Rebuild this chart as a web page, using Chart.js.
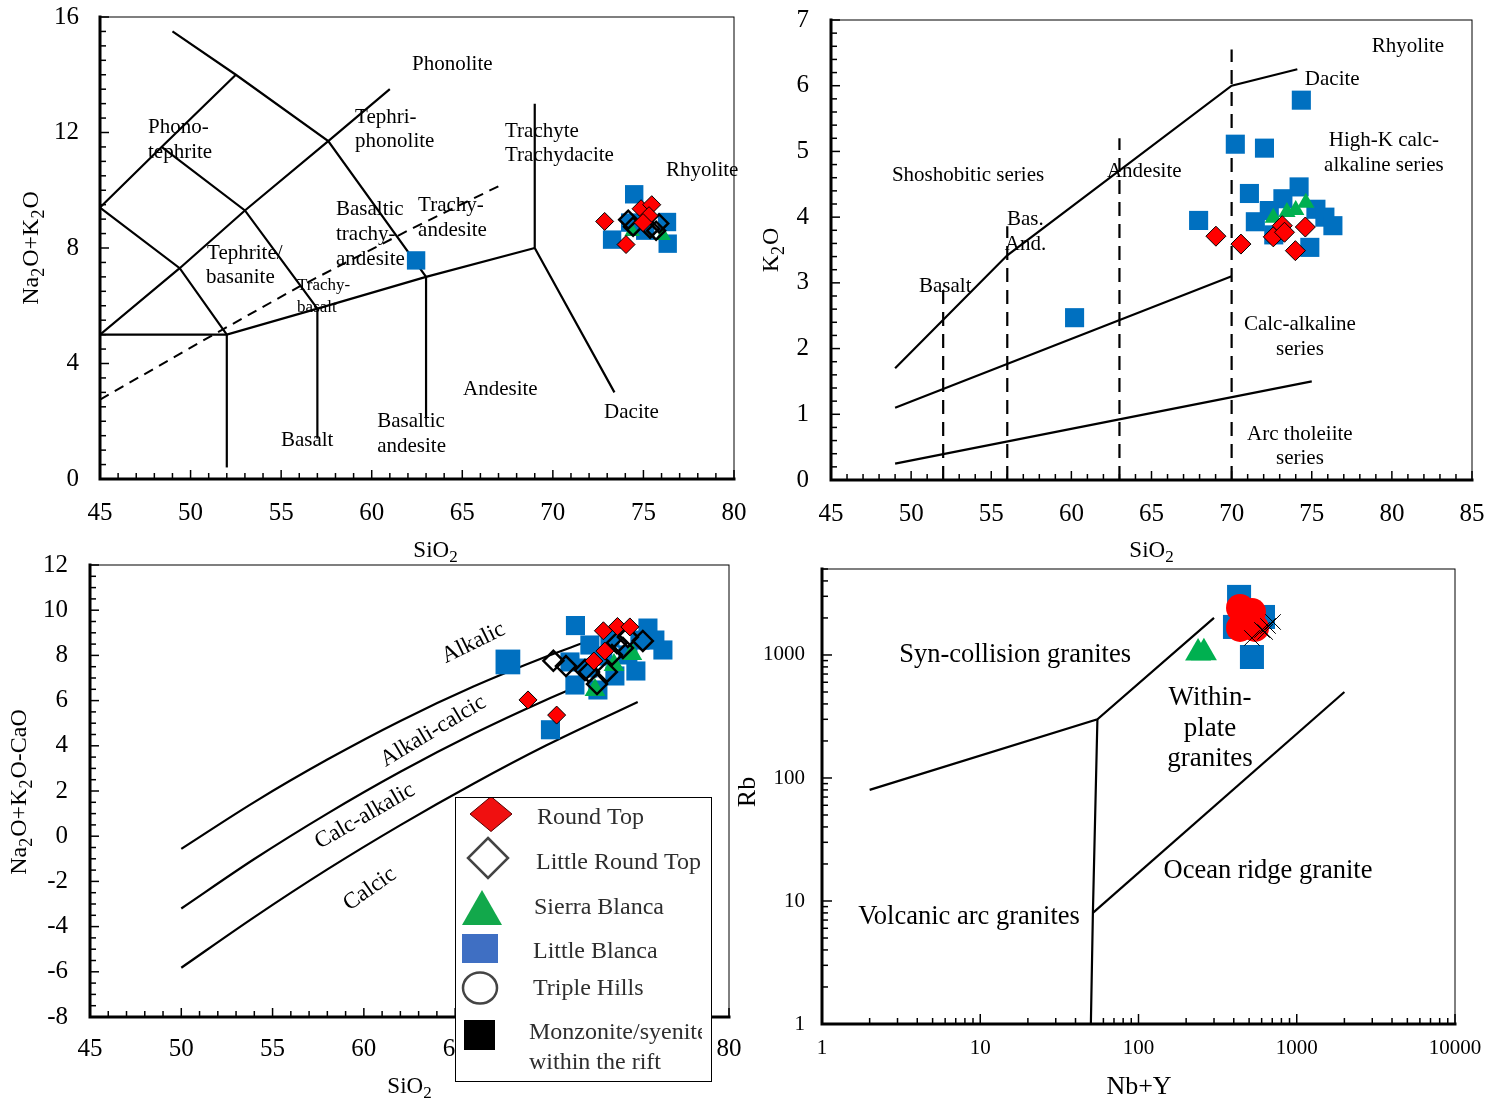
<!DOCTYPE html>
<html>
<head>
<meta charset="utf-8">
<title>Geochemical classification diagrams</title>
<script src="https://cdn.jsdelivr.net/npm/chart.js@4.4.1/dist/chart.umd.min.js"></script>
<style>
  html, body { margin: 0; padding: 0; background: #fff; }
  #page { position: relative; width: 1500px; height: 1103px; overflow: hidden; }
  #page canvas { position: absolute; }
</style>
</head>
<body>
<div id="page">
  <canvas id="tasChart"></canvas>
  <canvas id="k2oChart"></canvas>
  <canvas id="maliChart"></canvas>
  <canvas id="rbChart"></canvas>
</div>
<script>
// ================================
// Data
// ================================

// --- TAS (Na2O+K2O vs SiO2) ---
const tasRoundTop = [[72.86, 8.92], [74.04, 8.12], [74.87, 9.36], [75.46, 9.5], [75.31, 9.12], [74.98, 8.88]];
const tasLittleRoundTop = [[74.16, 8.98], [74.43, 8.74], [75.7, 8.6], [75.87, 8.85], [75.37, 8.67]];
const tasSierraBlanca = [[76.09, 8.43], [74.38, 8.57]];
const tasLittleBlanca = [[74.49, 9.86], [73.27, 8.29], [76.34, 8.15], [76.3, 8.9], [75.1, 8.6], [74.27, 8.88], [62.45, 7.57]];
const tasFieldLines = [
    [[45, 5], [52, 5], [57, 5.9], [63, 7], [69, 8]],
    [[52, 0.4], [52, 5]],
    [[57, 1.4], [57, 5.9]],
    [[63, 2.1], [63, 7]],
    [[69, 13], [69, 8], [73.4, 3.0]],
    [[45, 5], [49.4, 7.3], [53, 9.3], [57.6, 11.7], [61, 13.5]],
    [[45, 9.4], [48.4, 11.5], [52.5, 14]],
    [[49, 15.5], [52.5, 14], [57.6, 11.7], [63, 7]],
    [[45, 9.4], [49.4, 7.3], [52, 5]],
    [[48.4, 11.5], [53, 9.3], [57, 5.9]]
];
const tasAlkalineLine = [[45, 2.75], [51.1, 4.94], [55.9, 6.63], [62.3, 8.7], [67.2, 10.2]];
const tasLabels = [
    ['Phonolite', 62.23, 14.37],
    ['Phono-', 47.65, 12.16], ['tephrite', 47.65, 11.3],
    ['Tephri-', 59.08, 12.51], ['phonolite', 59.08, 11.68],
    ['Trachyte', 67.36, 12.02], ['Trachydacite', 67.36, 11.2],
    ['Rhyolite', 76.25, 10.68],
    ['Basaltic', 58.03, 9.33], ['trachy-', 58.03, 8.47], ['andesite', 58.03, 7.6],
    ['Trachy-', 62.56, 9.47], ['andesite', 62.56, 8.6],
    ['Tephrite/', 50.91, 7.81], ['basanite', 50.85, 6.98],
    ['Andesite', 65.04, 3.11],
    ['Basalt', 54.99, 1.35],
    ['Basaltic', 60.3, 2.0], ['andesite', 60.3, 1.14],
    ['Dacite', 72.83, 2.32]
];
const tasSmallLabels = [['Trachy-', 55.88, 6.7], ['basalt', 55.88, 5.94]];

// --- K2O vs SiO2 ---
const k2oRoundTop = [[69.02, 3.71], [70.58, 3.59], [72.6, 3.7], [73.16, 3.87], [74.6, 3.85], [73.98, 3.49], [73.3, 3.77]];
const k2oSierraBlanca = [[72.6, 3.99], [73.45, 4.08], [74.0, 4.11], [74.63, 4.22]];
const k2oLittleBlanca = [
    [74.35, 5.78], [70.23, 5.11], [72.05, 5.05], [71.11, 4.36], [67.94, 3.95], [60.2, 2.47],
    [74.21, 4.46], [73.2, 4.28], [72.35, 4.1], [71.48, 3.93], [75.26, 4.12], [75.82, 4.0],
    [76.32, 3.87], [74.88, 3.54], [72.63, 3.73]
];
const k2oSeriesLines = [
    [[49, 1.7], [56, 3.42], [70, 6.0], [74.1, 6.25]],
    [[49, 1.1], [70, 3.1]],
    [[49, 0.25], [75, 1.5]]
];
const k2oRockLines = [
    [[52, 0], [52, 2.95]],
    [[56, 0], [56, 3.86]],
    [[63, 0], [63, 5.2]],
    [[70, 0], [70, 6.55]]
];
const k2oLabels = [
    ['Rhyolite', 78.75, 6.59], ['Dacite', 74.57, 6.09],
    ['Shoshobitic series', 48.8, 4.63], ['Andesite', 62.22, 4.7],
    ['Bas.', 55.98, 3.96], ['And.', 55.85, 3.58], ['Basalt', 50.49, 2.95]
];
const k2oCenteredLabels = [
    ['High-K calc-', 79.5, 5.16], ['alkaline series', 79.5, 4.78],
    ['Calc-alkaline', 74.26, 2.36], ['series', 74.26, 1.99],
    ['Arc tholeiite', 74.26, 0.7], ['series', 74.26, 0.32]
];

// --- MALI (Na2O+K2O-CaO vs SiO2) ---
const maliRoundTop = [[68.99, 6.03], [70.56, 5.36], [73.12, 9.09], [73.89, 9.28], [74.57, 9.26], [73.2, 8.19], [72.6, 7.75]];
const maliLittleRoundTop = [
    [70.38, 7.76], [71.07, 7.53], [72.11, 7.35], [72.33, 7.27], [72.77, 6.73], [73.31, 7.27],
    [73.86, 8.55], [74.19, 8.33], [75.28, 8.64], [74.46, 8.81], [73.59, 8.02]
];
const maliSierraBlanca = [[72.66, 6.47], [73.7, 7.58], [74.68, 8.06]];
const maliLittleBlanca = [
    [71.59, 9.32], [70.22, 4.71], [71.56, 6.69], [72.27, 7.44], [72.82, 6.47], [73.75, 7.09],
    [74.46, 8.02], [75.12, 8.68], [75.94, 8.68], [76.38, 8.24], [74.9, 7.31], [73.09, 7.97],
    [71.29, 7.71], [72.38, 8.46], [73.48, 8.77], [75.56, 9.21]
];
const maliLittleBlancaLarge = [[67.89, 7.71]];
const maliAlkalic = [[50, -0.56], [54, 1.51], [58, 3.39], [62, 5.1], [66, 6.62], [70, 7.95], [72, 8.55]];
const maliAlkaliCalcic = [[50, -3.2], [54, -1.01], [58, 1.0], [62, 2.85], [66, 4.53], [70, 6.04], [72, 6.73]];
const maliCalcic = [[50, -5.82], [54, -3.58], [58, -1.47], [62, 0.49], [66, 2.32], [70, 4.02], [75, 5.94]];
const maliLabels = [['Alkalic', 66.0, 8.55], ['Alkali-calcic', 63.8, 4.65], ['Calc-alkalic', 60.06, 0.89], ['Calcic', 60.33, -2.34]];
const legendNames = ['Round Top', 'Little Round Top', 'Sierra Blanca', 'Little Blanca', 'Triple Hills', 'Monzonite/syenite\nwithin the rift'];

// --- Rb vs Nb+Y ---
const rbRoundTop = [[438, 2411], [521, 2237], [438, 1658], [545, 1658], [471, 1926]];
const rbTripleHills = [[521, 1375], [603, 1597], [658, 1721], [708, 1855], [631, 1538]];
const rbSierraBlanca = [[238, 1038], [259, 1045]];
const rbLittleBlanca = [[432, 2965], [612, 2037], [521, 963], [407, 1690]];
const rbFieldLines = [
    [[2, 80], [55, 300], [300, 2000]],
    [[50, 1], [51.5, 8], [55, 300]],
    [[51.5, 8], [2000, 500]]
];
const rbLabels = [['Syn-collision granites', 16.6, 1000], ['Ocean ridge granite', 658, 17.5], ['Volcanic arc granites', 8.49, 7.41]];
const rbBigLabels = [['Within-', 283, 447], ['plate', 283, 250], ['granites', 283, 143]];
const rbXTicks = [1, 10, 100, 1000, 10000];
const rbYTicks = [1, 10, 100, 1000];

// ================================
// Helpers
// ================================
const FONT = '"Liberation Serif", "Times New Roman", serif';
const BLUE = '#0070C0', RED = '#FF0000', GREEN = '#00B050';

const pts = arr => arr.map(([x, y]) => ({ x, y }));

function marks(data, style) {
    return Object.assign({ data: pts(data), showLine: false }, style);
}

function line(data, extra) {
    return Object.assign({
        data: pts(data), showLine: true, pointRadius: 0, borderColor: '#000',
        borderWidth: 2.2, fill: false, tension: 0
    }, extra || {});
}

const redDiamond = r => ({ pointStyle: 'rectRot', pointRadius: r, pointBackgroundColor: RED, pointBorderColor: '#000', pointBorderWidth: 1 });
const openDiamond = r => ({ pointStyle: 'rectRot', pointRadius: r, pointBackgroundColor: 'rgba(0,0,0,0)', pointBorderColor: '#000', pointBorderWidth: 2.5 });
const greenTriangle = r => ({ pointStyle: 'triangle', pointRadius: r, pointBackgroundColor: GREEN, pointBorderColor: GREEN, pointBorderWidth: 0 });
const blueSquare = r => ({ pointStyle: 'rect', pointRadius: r, pointBackgroundColor: BLUE, pointBorderColor: BLUE, pointBorderWidth: 0 });

// text with "_2" style subscripts
function richText(ctx, str, x, y, size, align) {
    const parts = str.split(/(_\d+)/).filter(Boolean)
        .map(s => s[0] === '_' ? { t: s.slice(1), sub: true } : { t: s, sub: false });
    const big = size + 'px ' + FONT, small = Math.round(size * 0.74) + 'px ' + FONT;
    let total = 0;
    parts.forEach(p => { ctx.font = p.sub ? small : big; p.w = ctx.measureText(p.t).width + (p.sub ? 1 : 0); total += p.w; });
    let cx = align === 'center' ? x - total / 2 : align === 'right' ? x - total : x;
    ctx.textAlign = 'left';
    ctx.textBaseline = 'middle';
    parts.forEach(p => {
        ctx.font = p.sub ? small : big;
        ctx.fillText(p.t, cx, p.sub ? y + size * 0.3 : y);
        cx += p.w;
    });
}

function tickValues(scale, step) {
    const out = [];
    const majors = scale.ticks.map(t => t.value);
    const isMajor = v => majors.some(m => Math.abs(m - v) < 1e-6 * Math.max(1, Math.abs(m)));
    if (scale.type === 'logarithmic') {
        for (let d = Math.floor(Math.log10(scale.min)); d <= Math.ceil(Math.log10(scale.max)); d++) {
            for (let k = 1; k <= 9; k++) {
                const v = k * Math.pow(10, d);
                if (v >= scale.min && v <= scale.max) out.push([v, k === 1]);
            }
        }
    } else {
        const n = Math.round((scale.max - scale.min) / step);
        for (let i = 0; i <= n; i++) {
            const v = scale.min + i * step;
            out.push([v, isMajor(v)]);
        }
    }
    return out;
}

function shape(ctx, kind, x, y, w, h) {
    ctx.beginPath();
    if (kind === 'diamond') {
        ctx.moveTo(x, y - h); ctx.lineTo(x + w, y); ctx.lineTo(x, y + h); ctx.lineTo(x - w, y); ctx.closePath();
    } else if (kind === 'triangle') {
        ctx.moveTo(x, y - h); ctx.lineTo(x + w, y + h); ctx.lineTo(x - w, y + h); ctx.closePath();
    } else if (kind === 'square') {
        ctx.rect(x - w, y - h, 2 * w, 2 * h);
    } else {
        ctx.ellipse(x, y, w, h, 0, 0, Math.PI * 2);
    }
}

// ================================
// Decoration plugin: frame, inner ticks, field names, axis titles, legend
// ================================
const decor = {
    id: 'decor',
    afterDraw(chart, args, o) {
        const { ctx, chartArea: a } = chart;
        const xs = chart.scales.x, ys = chart.scales.y;
        ctx.save();
        ctx.fillStyle = '#000';
        ctx.strokeStyle = '#000';

        // field names
        (o.notes || []).forEach(n => {
            n.items.forEach(([t, vx, vy], i) => {
                const px = xs.getPixelForValue(vx), py = ys.getPixelForValue(vy);
                if (n.rotate) {
                    ctx.save();
                    ctx.translate(px, py);
                    ctx.rotate(n.rotate[i] * Math.PI / 180);
                    richText(ctx, t, 0, 0, n.size, 'center');
                    ctx.restore();
                } else {
                    richText(ctx, t, px, py, n.size, n.align || 'left');
                }
            });
        });

        // frame
        ctx.lineWidth = 1;
        ctx.strokeRect(a.left, a.top, a.right - a.left, a.bottom - a.top);
        ctx.lineWidth = 3;
        ctx.lineCap = 'square';
        ctx.beginPath();
        ctx.moveTo(a.left, a.top);
        ctx.lineTo(a.left, a.bottom);
        ctx.lineTo(a.right, a.bottom);
        ctx.stroke();

        // inner ticks
        ctx.lineWidth = 1.5;
        ctx.lineCap = 'butt';
        tickValues(xs, o.xMinor).forEach(([v, major]) => {
            const p = xs.getPixelForValue(v);
            ctx.beginPath();
            ctx.moveTo(p, a.bottom);
            ctx.lineTo(p, a.bottom - (major ? o.major : o.minor));
            ctx.stroke();
        });
        tickValues(ys, o.yMinor).forEach(([v, major]) => {
            const p = ys.getPixelForValue(v);
            ctx.beginPath();
            ctx.moveTo(a.left, p);
            ctx.lineTo(a.left + (major ? o.major : o.minor), p);
            ctx.stroke();
        });

        // axis titles (page coordinates)
        const off = o.offset;
        (o.titles || []).forEach(t => {
            const x = t.x - off.x, y = t.y - off.y;
            if (t.rot) {
                ctx.save();
                ctx.translate(x, y);
                ctx.rotate(-Math.PI / 2);
                richText(ctx, t.text, 0, 0, t.size, 'center');
                ctx.restore();
            } else {
                richText(ctx, t.text, x, y, t.size, 'center');
            }
        });

        // legend box (page coordinates), pasted over the plot like in the source figure
        if (o.legend) {
            const L = o.legend;
            const bx = L.box[0] - off.x, by = L.box[1] - off.y;
            const bw = L.box[2] - L.box[0], bh = L.box[3] - L.box[1];
            ctx.fillStyle = '#fff';
            ctx.fillRect(bx, by, bw, bh);
            ctx.save();
            ctx.beginPath();
            ctx.rect(bx, by, bw - 9, bh);
            ctx.clip();
            L.items.forEach((it, i) => {
                const x = it.x - off.x, y = it.y - off.y;
                shape(ctx, it.kind, x, y, it.w, it.h);
                if (it.fill) { ctx.fillStyle = it.fill; ctx.fill(); }
                if (it.stroke) { ctx.strokeStyle = it.stroke; ctx.lineWidth = it.lw; ctx.stroke(); }
                ctx.fillStyle = '#2e2e2e';
                ctx.filter = 'blur(0.5px)';
                legendNames[i].split('\n').forEach((txt, j) => {
                    richText(ctx, txt, it.tx - off.x, it.ty - off.y + j * L.lineGap, L.size, 'left');
                });
                ctx.filter = 'none';
            });
            ctx.restore();
            ctx.strokeStyle = '#000';
            ctx.lineWidth = 1;
            ctx.strokeRect(bx + 0.5, by + 0.5, bw, bh);
        }
        ctx.restore();
    }
};

// ================================
// Panel factory
// ================================
function panel(id, box, area, cfg) {
    const cv = document.getElementById(id);
    cv.width = box.w;
    cv.height = box.h;
    cv.style.left = box.x + 'px';
    cv.style.top = box.y + 'px';
    cv.style.width = box.w + 'px';
    cv.style.height = box.h + 'px';

    const axisBase = {
        grid: { display: false, drawTicks: false },
        border: { display: false }
    };
    // fixed axis sizes, and no extra room for label overflow
    const noPad = s => { s.paddingLeft = s.paddingRight = s.paddingTop = s.paddingBottom = 0; };

    return new Chart(cv, {
        type: 'scatter',
        data: { datasets: cfg.datasets },
        options: {
            responsive: false,
            animation: false,
            events: [],
            layout: { padding: { left: 0, top: area.t - box.y, right: box.x + box.w - area.r, bottom: 0 } },
            plugins: {
                legend: { display: false },
                tooltip: { enabled: false },
                decor: Object.assign({ offset: box }, cfg.decor)
            },
            scales: {
                x: Object.assign({}, axisBase, cfg.x, {
                    afterFit: s => { s.height = box.y + box.h - area.b; noPad(s); }
                }),
                y: Object.assign({}, axisBase, cfg.y, {
                    afterFit: s => { s.width = area.l - box.x; noPad(s); }
                })
            }
        },
        plugins: [decor]
    });
}

const tickFont = size => ({ family: FONT, size: size });

// ================================
// Panel 1: TAS
// ================================
panel('tasChart', { x: 0, y: 0, w: 750, h: 580 }, { l: 100, t: 17, r: 734, b: 479 }, {
    datasets: [
        marks(tasRoundTop, redDiamond(9)),
        marks(tasLittleRoundTop, openDiamond(9)),
        marks(tasSierraBlanca, greenTriangle(9)),
        marks(tasLittleBlanca, blueSquare(13)),
        line(tasAlkalineLine, { borderDash: [10, 7], borderWidth: 2 }),
        ...tasFieldLines.map(l => line(l))
    ],
    x: { min: 45, max: 80, ticks: { stepSize: 5, padding: 19, color: '#000', font: tickFont(25), autoSkip: false, maxRotation: 0 } },
    y: { min: 0, max: 16, ticks: { stepSize: 4, padding: 21, color: '#000', font: tickFont(25) } },
    decor: {
        xMinor: 1, yMinor: 0.5, major: 9, minor: 6,
        notes: [
            { items: tasLabels, size: 21, align: 'left' },
            { items: tasSmallLabels, size: 17, align: 'left' }
        ],
        titles: [
            { text: 'SiO_2', x: 436, y: 551, size: 23 },
            { text: 'Na_2O+K_2O', x: 32, y: 248, rot: true, size: 24 }
        ]
    }
});

// ================================
// Panel 2: K2O vs SiO2
// ================================
panel('k2oChart', { x: 750, y: 0, w: 750, h: 580 }, { l: 831, t: 20, r: 1472, b: 480 }, {
    datasets: [
        marks(k2oRoundTop, redDiamond(10)),
        marks(k2oSierraBlanca, greenTriangle(10)),
        marks(k2oLittleBlanca, blueSquare(13.5)),
        ...k2oSeriesLines.map(l => line(l)),
        ...k2oRockLines.map(l => line(l, { borderDash: [14, 8] }))
    ],
    x: { min: 45, max: 85, ticks: { stepSize: 5, padding: 19, color: '#000', font: tickFont(25), autoSkip: false, maxRotation: 0 } },
    y: { min: 0, max: 7, ticks: { stepSize: 1, padding: 22, color: '#000', font: tickFont(25) } },
    decor: {
        xMinor: 1, yMinor: 0.2, major: 9, minor: 6,
        notes: [
            { items: k2oLabels, size: 21, align: 'left' },
            { items: k2oCenteredLabels, size: 21, align: 'center' }
        ],
        titles: [
            { text: 'SiO_2', x: 1152, y: 551, size: 23 },
            { text: 'K_2O', x: 772, y: 250, rot: true, size: 24 }
        ]
    }
});

// ================================
// Panel 3: MALI vs SiO2
// ================================
const curve = { tension: 0.4, cubicInterpolationMode: 'monotone' };
panel('maliChart', { x: 0, y: 540, w: 750, h: 563 }, { l: 90, t: 565, r: 729, b: 1017 }, {
    datasets: [
        marks(maliRoundTop, redDiamond(9)),
        marks(maliLittleRoundTop, openDiamond(10)),
        marks(maliSierraBlanca, greenTriangle(12)),
        marks(maliLittleBlanca, blueSquare(13.5)),
        marks(maliLittleBlancaLarge, blueSquare(17.5)),
        line(maliAlkalic, curve),
        line(maliAlkaliCalcic, curve),
        line(maliCalcic, curve)
    ],
    x: { min: 45, max: 80, ticks: { stepSize: 5, padding: 17, color: '#000', font: tickFont(25), autoSkip: false, maxRotation: 0 } },
    y: { min: -8, max: 12, ticks: { stepSize: 2, padding: 22, color: '#000', font: tickFont(25) } },
    decor: {
        xMinor: 1, yMinor: 0.5, major: 9, minor: 6,
        notes: [
            { items: maliLabels, size: 23, rotate: [-26, -31, -30, -35] }
        ],
        titles: [
            { text: 'SiO_2', x: 410, y: 1087, size: 23 },
            { text: 'Na_2O+K_2O-CaO', x: 20, y: 792, rot: true, size: 24 }
        ],
        legend: {
            box: [455, 797, 711, 1081],
            size: 24, lineGap: 30,
            items: [
                { kind: 'diamond', x: 491, y: 814, w: 21, h: 17.5, fill: '#F01010', stroke: '#500', lw: 1, tx: 537, ty: 818 },
                { kind: 'diamond', x: 488, y: 858, w: 20, h: 20, fill: '#fff', stroke: '#444', lw: 2.5, tx: 536, ty: 863 },
                { kind: 'triangle', x: 482, y: 907.5, w: 20, h: 17.5, fill: '#12A84B', tx: 534, ty: 908 },
                { kind: 'square', x: 480, y: 948.5, w: 18, h: 14.5, fill: '#3F6FC3', tx: 533, ty: 952 },
                { kind: 'circle', x: 480, y: 988, w: 17, h: 15.5, fill: '#fff', stroke: '#444', lw: 2.5, tx: 533, ty: 989 },
                { kind: 'square', x: 479.5, y: 1035, w: 15.5, h: 15, fill: '#000', tx: 529, ty: 1033 }
            ]
        }
    }
});

// ================================
// Panel 4: Rb vs Nb+Y
// ================================
panel('rbChart', { x: 700, y: 540, w: 800, h: 563 }, { l: 822, t: 569, r: 1455, b: 1024 }, {
    datasets: [
        marks(rbTripleHills, { pointStyle: 'crossRot', pointRadius: 11, pointBorderColor: '#000', pointBorderWidth: 1 }),
        marks(rbRoundTop, { pointStyle: 'circle', pointRadius: 14, pointBackgroundColor: RED, pointBorderColor: RED, pointBorderWidth: 0 }),
        marks(rbLittleBlanca, blueSquare(17)),
        marks(rbSierraBlanca, greenTriangle(15)),
        ...rbFieldLines.map(l => line(l))
    ],
    x: {
        type: 'logarithmic', min: 1, max: 10000,
        afterBuildTicks: s => { s.ticks = rbXTicks.map(v => ({ value: v })); },
        ticks: { padding: 12, color: '#000', font: tickFont(21), autoSkip: false, maxRotation: 0, callback: v => String(v) }
    },
    y: {
        type: 'logarithmic', min: 1, max: 5000,
        afterBuildTicks: s => { s.ticks = rbYTicks.map(v => ({ value: v })); },
        ticks: { padding: 17, color: '#000', font: tickFont(21), callback: v => String(v) }
    },
    decor: {
        major: 10, minor: 6,
        notes: [
            { items: rbLabels, size: 26.5, align: 'center' },
            { items: rbBigLabels, size: 27, align: 'center' }
        ],
        titles: [
            { text: 'Nb+Y', x: 1139, y: 1087, size: 26 },
            { text: 'Rb', x: 748, y: 792, rot: true, size: 26 }
        ]
    }
});
</script>
</body>
</html>
